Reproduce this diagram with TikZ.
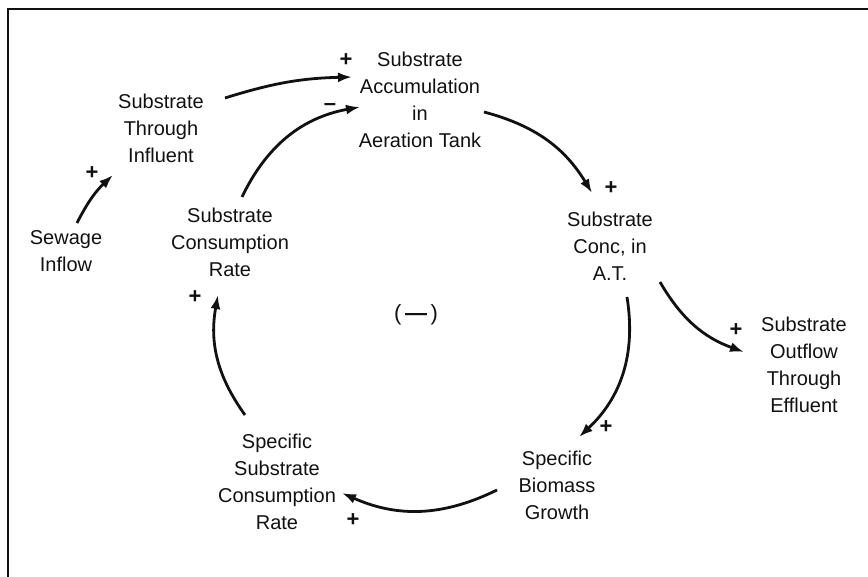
\documentclass[tikz,border=0pt]{standalone}
\usepackage{fontspec}
\setmainfont{Liberation Sans}
\usepackage{xcolor}
\usepackage{tikz}
\usetikzlibrary{arrows.meta,calc}
\definecolor{Ink}{HTML}{111111}

\begin{document}
\begin{tikzpicture}[x=0.5pt,y=0.5pt,
  var/.style={align=center,font=\fontsize{10}{13.5}\selectfont,inner sep=1pt,text=Ink},
  sign/.style={font=\bfseries\fontsize{11}{11}\selectfont,inner sep=0pt,text=Ink},
  link/.style={-{Latex[length=7pt,width=5pt]},line width=1.4pt,color=Ink}
]
\useasboundingbox (0,0) rectangle (868,-577);
\draw[line width=1pt,Ink] (8,-577) -- (8,-9) -- (868,-9);
\node[var] (accum) at (420,-100) {Substrate\\Accumulation\\in\\Aeration Tank};
\node[var] (thru) at (161,-128) {Substrate\\Through\\Influent};
\node[var] (sewage) at (66,-251) {Sewage\\Inflow};
\node[var] (cons) at (230,-242) {Substrate\\Consumption\\Rate};
\node[var] (conc) at (610,-246) {Substrate\\Conc, in\\A.T.};
\node[var] (outflow) at (804,-365) {Substrate\\Outflow\\Through\\Effluent};
\node[var] (biomass) at (557,-485) {Specific\\Biomass\\Growth};
\node[var] (sscr) at (277,-482) {Specific\\Substrate\\Consumption\\Rate};
\node[var,font=\fontsize{11}{13}\selectfont] (loop) at (416,-315) {(\,\textbf{—}\,)};
\foreach \n/\x/\y in {ps/92/173,pa/346/60,pc/611/188,po/736/330,pb/606/427,pr/353/520,pk/195/297}
  \node[sign] (\n) at (\x,-\y) {+};
\node[sign] (ma) at (330,-107) {–};
\draw[link] ([shift={(11,28)}]sewage.center) to[bend left=10] ([shift={(-48,-47)}]thru.center);
\draw[link] ([shift={(64,30)}]thru.center) to[bend left=8] ([shift={(-68,23)}]accum.center);
\draw[link] ([shift={(12,45)}]cons.center) to[bend left=27] ([shift={(-60,-7)}]accum.center);
\draw[link] ([shift={(64,-12)}]accum.center) to[bend left=22] ([shift={(-18,53)}]conc.center);
\draw[link] ([shift={(50,-36)}]conc.center) to[bend right=20] ([shift={(-60,13)}]outflow.center);
\draw[link] ([shift={(17,-51)}]conc.center) to[bend left=28] ([shift={(22,48)}]biomass.center);
\draw[link] ([shift={(-60,-5)}]biomass.center) to[bend left=25] ([shift={(65,-11)}]sscr.center);
\draw[link] ([shift={(-32,67)}]sscr.center) to[bend left=23] ([shift={(-12,-53)}]cons.center);
\end{tikzpicture}
\end{document}
